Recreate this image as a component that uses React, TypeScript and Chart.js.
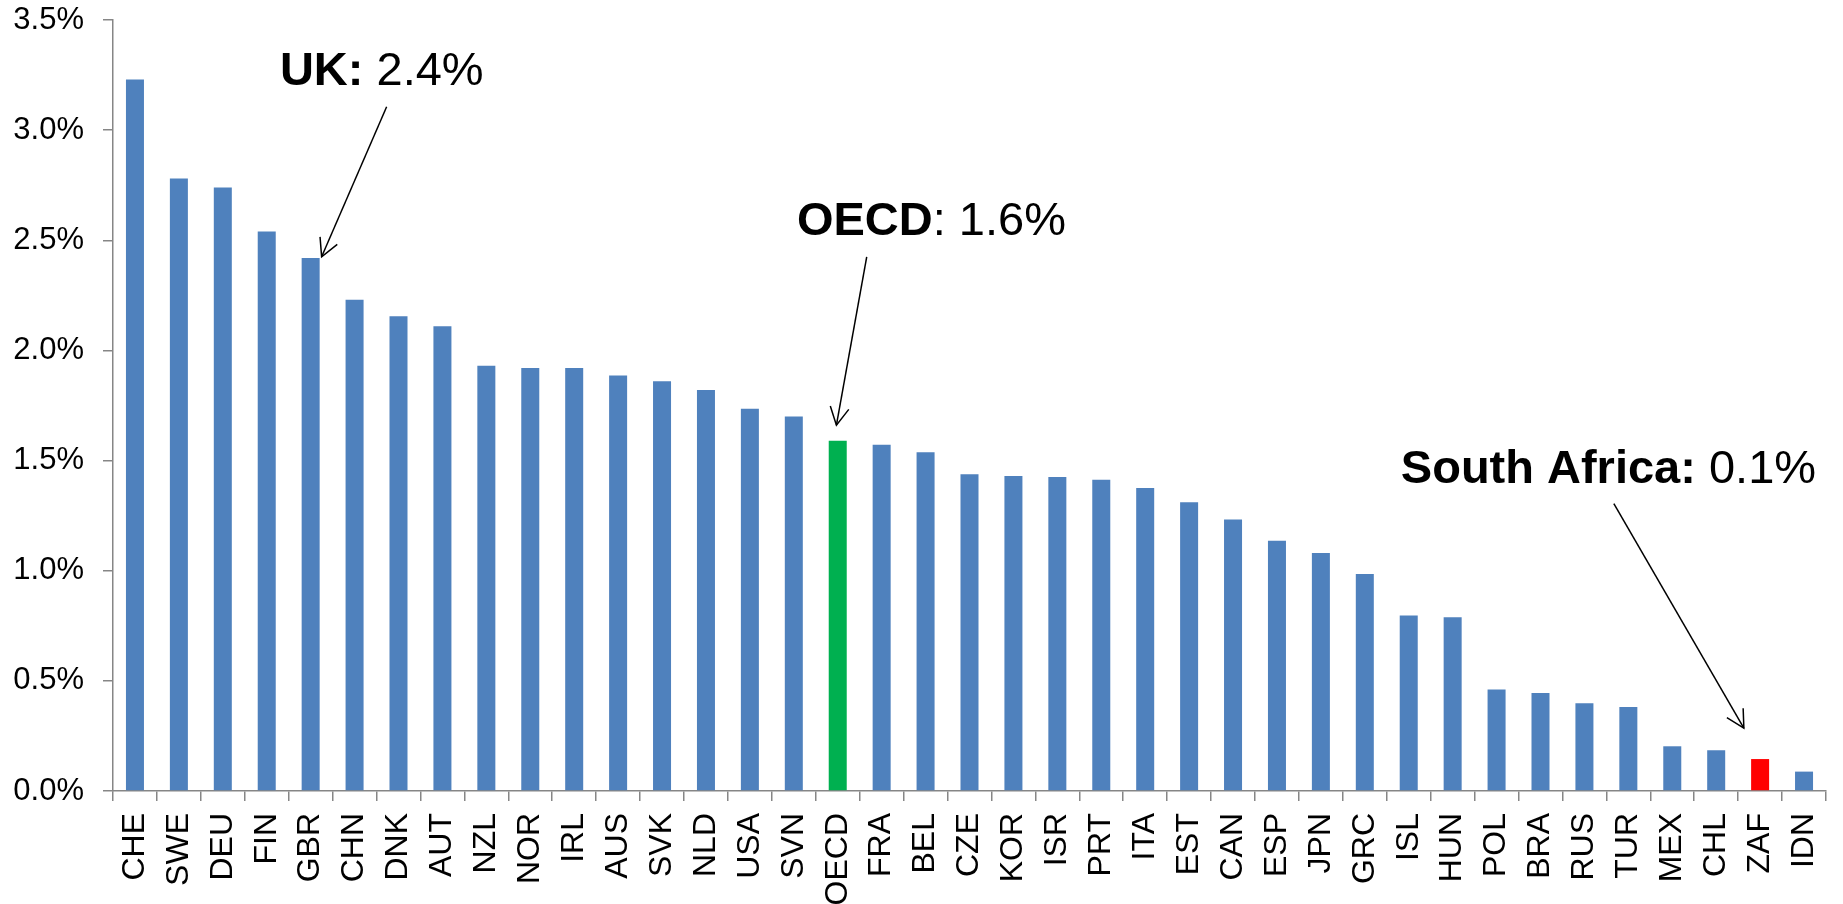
import React, { useEffect, useRef } from "react";
import { Chart, registerables } from "chart.js";

Chart.register(...registerables);

const categories = [
  "CHE", "SWE", "DEU", "FIN", "GBR", "CHN", "DNK", "AUT", "NZL", "NOR",
  "IRL", "AUS", "SVK", "NLD", "USA", "SVN", "OECD", "FRA", "BEL", "CZE",
  "KOR", "ISR", "PRT", "ITA", "EST", "CAN", "ESP", "JPN", "GRC", "ISL",
  "HUN", "POL", "BRA", "RUS", "TUR", "MEX", "CHL", "ZAF", "IDN",
];

const values = [
  3.23, 2.78, 2.74, 2.54, 2.42, 2.23, 2.155, 2.11, 1.93, 1.92,
  1.92, 1.886, 1.86, 1.82, 1.735, 1.70, 1.59, 1.572, 1.538, 1.438,
  1.43, 1.425, 1.413, 1.376, 1.311, 1.232, 1.136, 1.08, 0.985, 0.797,
  0.789, 0.461, 0.445, 0.398, 0.381, 0.203, 0.185, 0.145, 0.088,
];

const yTicks = [0, 0.5, 1.0, 1.5, 2.0, 2.5, 3.0, 3.5];

const highlightCategories = ["OECD", "ZAF"];
const highlightColors = ["#00B050", "#FF0000"];
const baseColor = "#4F81BD";

const annotationBold = ["UK:", "OECD", "South Africa:"];
const annotationRest = [" 2.4%", ": 1.6%", " 0.1%"];

// annotation placement in data units (category index, value)
const annotationTextPos = [
  [3.30, 3.205],
  [15.07, 2.524],
  [28.82, 1.398],
];
const annotationTail = [
  [5.73, 3.106],
  [16.66, 2.425],
  [33.67, 1.305],
];
const annotationTip = [
  [4.25, 2.425],
  [15.97, 1.661],
  [36.63, 0.285],
];

const FONT = "'Liberation Sans', Arial, sans-serif";

const annotationPlugin = {
  id: "arrowAnnotations",
  afterDraw(chart: any) {
    const ctx = chart.ctx;
    const xs = chart.scales.x;
    const ys = chart.scales.y;
    ctx.save();
    ctx.fillStyle = "#000";
    ctx.strokeStyle = "#000";
    ctx.textBaseline = "alphabetic";
    ctx.textAlign = "left";
    for (let i = 0; i < annotationBold.length; i++) {
      const tx = xs.getPixelForValue(annotationTextPos[i][0]);
      const ty = ys.getPixelForValue(annotationTextPos[i][1]);
      ctx.font = `bold 47px ${FONT}`;
      ctx.fillText(annotationBold[i], tx, ty);
      const w = ctx.measureText(annotationBold[i]).width;
      ctx.font = `47px ${FONT}`;
      ctx.fillText(annotationRest[i], tx + w, ty);

      const ax = xs.getPixelForValue(annotationTail[i][0]);
      const ay = ys.getPixelForValue(annotationTail[i][1]);
      const bx = xs.getPixelForValue(annotationTip[i][0]);
      const by = ys.getPixelForValue(annotationTip[i][1]);
      ctx.lineWidth = 1.5;
      ctx.beginPath();
      ctx.moveTo(ax, ay);
      ctx.lineTo(bx, by);
      ctx.stroke();
      const ang = Math.atan2(ay - by, ax - bx);
      const hl = 20;
      const ha = (28 * Math.PI) / 180;
      ctx.beginPath();
      ctx.moveTo(bx + hl * Math.cos(ang - ha), by + hl * Math.sin(ang - ha));
      ctx.lineTo(bx, by);
      ctx.lineTo(bx + hl * Math.cos(ang + ha), by + hl * Math.sin(ang + ha));
      ctx.stroke();
    }
    ctx.restore();
  },
};

export default function App() {
  const ref = useRef<HTMLCanvasElement | null>(null);
  useEffect(() => {
    if (!ref.current) return;
    const colors = categories.map((c) => {
      const k = highlightCategories.indexOf(c);
      return k >= 0 ? highlightColors[k] : baseColor;
    });
    const chart = new Chart(ref.current, {
      type: "bar",
      data: {
        labels: categories,
        datasets: [
          {
            data: values,
            backgroundColor: colors,
            borderWidth: 0,
            barPercentage: 0.41,
            categoryPercentage: 1,
          },
        ],
      },
      options: {
        animation: false,
        responsive: true,
        maintainAspectRatio: false,
        layout: { padding: { top: 20, right: 17, bottom: 0, left: 0 } },
        plugins: {
          legend: { display: false },
          tooltip: { enabled: false },
          title: { display: false },
        },
        scales: {
          x: {
            grid: {
              display: true,
              drawOnChartArea: false,
              drawTicks: true,
              tickLength: 10,
              color: "#868686",
              lineWidth: 1.5,
            },
            border: { display: true, color: "#868686", width: 1.5 },
            ticks: {
              autoSkip: false,
              minRotation: 90,
              maxRotation: 90,
              padding: 12,
              color: "#000",
              font: { family: FONT, size: 32 },
            },
            afterFit: (scale: any) => {
              scale.height = 113;
              scale.paddingLeft = 0;
              scale.paddingRight = 0;
            },
          },
          y: {
            min: yTicks[0],
            max: yTicks[yTicks.length - 1],
            grid: {
              display: true,
              drawOnChartArea: false,
              drawTicks: true,
              tickLength: 10,
              color: "#868686",
              lineWidth: 1.5,
            },
            border: { display: true, color: "#868686", width: 1.5 },
            ticks: {
              stepSize: yTicks[1] - yTicks[0],
              padding: 19,
              color: "#000",
              font: { family: FONT, size: 31 },
              callback: (v: any) => Number(v).toFixed(1) + "%",
            },
            afterFit: (scale: any) => {
              scale.width = 113;
              scale.paddingTop = 0;
              scale.paddingBottom = 0;
            },
          },
        },
      },
      plugins: [annotationPlugin],
    });
    return () => chart.destroy();
  }, []);
  return (
    <div
      style={{
        position: "fixed",
        left: 0,
        top: 0,
        width: 1843,
        height: 904,
        background: "#fff",
      }}
    >
      <canvas ref={ref} />
    </div>
  );
}
